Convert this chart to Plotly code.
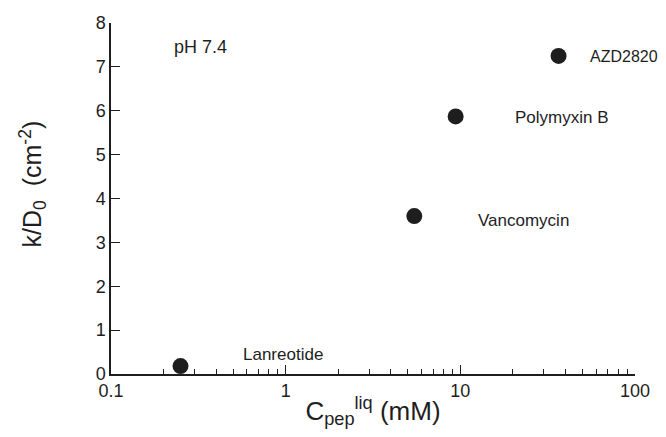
import math
import plotly.graph_objects as go

# Data
peptides = ["Lanreotide", "Vancomycin", "Polymyxin B", "AZD2820"]
c_pep_liq = [0.25, 5.45, 9.4, 36.5]      # mM
k_over_D0 = [0.18, 3.60, 5.87, 7.25]     # cm^-2
x_ticks = [0.1, 1, 10, 100]
x_tick_labels = ["0.1", "1", "10", "100"]
x_minor_ticks = [m * d for d in (0.1, 1, 10) for m in range(2, 10)]
y_ticks = [0, 1, 2, 3, 4, 5, 6, 7, 8]

# label offsets in pixels (style only)
label_dx = [60, 62, 57, 29]
label_dy = [12, -4, -1, -1]
label_size = [17, 17, 17, 16]

ink = "#1e1e1e"
font = "Liberation Sans, Arial, sans-serif"

fig = go.Figure()
fig.add_trace(go.Scatter(
    x=c_pep_liq, y=k_over_D0, mode="markers",
    marker=dict(size=16, color=ink, line=dict(width=0)),
    showlegend=False, cliponaxis=False,
))

for name, x, y, dx, dy, s in zip(peptides, c_pep_liq, k_over_D0, label_dx, label_dy, label_size):
    fig.add_annotation(x=math.log10(x), y=y, xref="x", yref="y", text=name, showarrow=False,
                       xanchor="left", yanchor="middle", xshift=dx, yshift=dy,
                       font=dict(family=font, size=s, color=ink))

fig.add_annotation(x=math.log10(0.222), y=7.45, xref="x", yref="y", text="pH 7.4", showarrow=False,
                   xanchor="left", yanchor="middle",
                   font=dict(family=font, size=18, color=ink))

# y-axis title as annotation (sits slightly above the axis centre)
fig.add_annotation(x=0, y=0.54, xref="paper", yref="paper", xshift=-78,
                   text="k/D<sub>0</sub>  (cm<sup>-2</sup>)", showarrow=False, textangle=-90,
                   xanchor="center", yanchor="middle",
                   font=dict(family=font, size=25, color=ink))

fig.update_layout(
    width=650, height=421,
    margin=dict(l=103, r=23, t=15, b=55, autoexpand=False),
    paper_bgcolor="white", plot_bgcolor="white",
    font=dict(family=font, color=ink),
)
fig.update_xaxes(
    type="log", range=[-1, 2], tickvals=x_ticks, ticktext=x_tick_labels,
    showline=True, linecolor=ink, linewidth=1.5, mirror=False,
    ticks="inside", ticklen=9, tickwidth=1.3, tickcolor=ink,
    minor=dict(tickvals=x_minor_ticks, ticks="inside", ticklen=5, tickwidth=1.2,
               tickcolor=ink, showgrid=False),
    showgrid=False, zeroline=False, automargin=False,
    tickfont=dict(size=18, family=font, color=ink),
    title=dict(text="C<sub>pep</sub><sup>liq</sup> (mM)", font=dict(size=26, family=font, color=ink), standoff=2),
)
fig.update_yaxes(
    range=[0, 8], tickvals=y_ticks,
    showline=True, linecolor=ink, linewidth=1.5, mirror=False,
    ticks="inside", ticklen=9, tickwidth=1.3, tickcolor=ink,
    showgrid=False, zeroline=False, automargin=False,
    tickfont=dict(size=18, family=font, color=ink),
)

fig.write_html("out.html")
